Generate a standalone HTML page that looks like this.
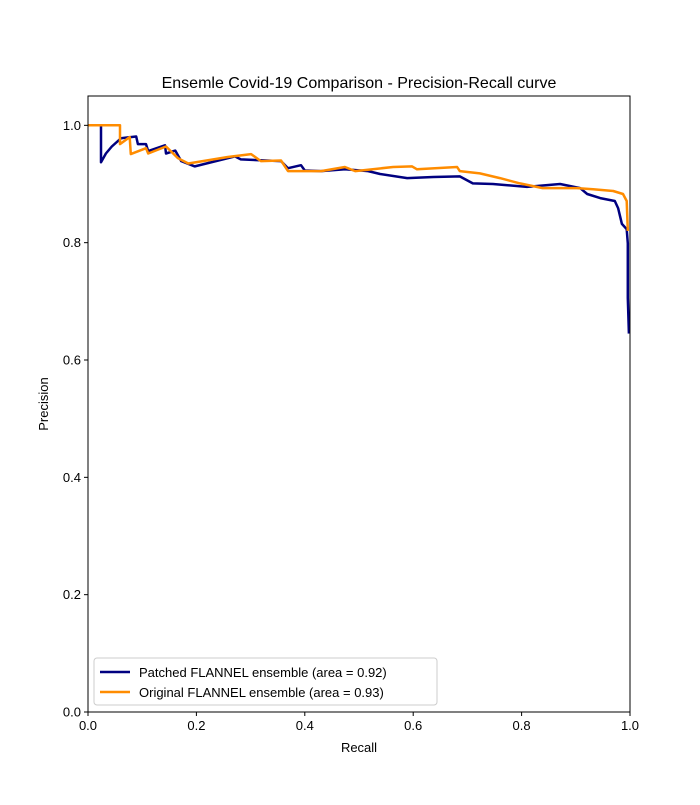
<!DOCTYPE html>
<html><head><meta charset="utf-8"><style>
body{margin:0;background:#fff;}
svg text{font-family:"Liberation Sans",sans-serif;fill:#000;}
</style></head><body>
<svg id="chart" width="700" height="800" xmlns="http://www.w3.org/2000/svg">
<rect width="700" height="800" fill="#fff"/>
<text x="359" y="88" font-size="16" text-anchor="middle">Ensemle Covid-19 Comparison - Precision-Recall curve</text>
<g id="ticks"></g>
<g id="series"></g>
<rect x="88" y="96" width="542" height="616" fill="none" stroke="#000" stroke-width="1"/>
<text x="359" y="752" font-size="13" text-anchor="middle">Recall</text>
<text x="48" y="404" font-size="13" text-anchor="middle" transform="rotate(-90 48 404)">Precision</text>
<g>
<rect x="94" y="658" width="343" height="47" rx="3" fill="#fff" fill-opacity="0.8" stroke="#ccc"/>
<line x1="100" y1="672" x2="130" y2="672" stroke="#000080" stroke-width="2.5"/>
<text x="139" y="677" font-size="13">Patched FLANNEL ensemble (area = 0.92)</text>
<line x1="100" y1="692" x2="130" y2="692" stroke="#ff8c00" stroke-width="2.5"/>
<text x="139" y="697" font-size="13">Original FLANNEL ensemble (area = 0.93)</text>
</g>
</svg>
<script>
const xTicks=[0,0.2,0.4,0.6,0.8,1.0];
const xTickLabels=["0.0","0.2","0.4","0.6","0.8","1.0"];
const yTicks=[0,0.2,0.4,0.6,0.8,1.0];
const yTickLabels=["0.0","0.2","0.4","0.6","0.8","1.0"];
const patchedRecall=[0.024,0.024,0.033,0.044,0.061,0.089,0.092,0.107,0.111,0.142,0.144,0.161,0.172,0.197,0.271,0.282,0.356,0.369,0.393,0.400,0.430,0.474,0.517,0.539,0.589,0.637,0.686,0.710,0.747,0.810,0.871,0.908,0.921,0.945,0.972,0.978,0.985,0.994,0.996,0.996,0.998];
const patchedPrecision=[1.0,0.937,0.952,0.964,0.978,0.981,0.968,0.968,0.956,0.966,0.952,0.957,0.939,0.930,0.947,0.942,0.939,0.927,0.932,0.923,0.922,0.925,0.922,0.917,0.910,0.912,0.913,0.901,0.900,0.895,0.900,0.893,0.883,0.876,0.871,0.859,0.832,0.823,0.799,0.706,0.645];
const originalRecall=[0,0.059,0.059,0.077,0.079,0.107,0.111,0.144,0.166,0.185,0.258,0.301,0.319,0.356,0.369,0.430,0.474,0.493,0.563,0.598,0.607,0.640,0.681,0.686,0.723,0.760,0.797,0.839,0.902,0.932,0.969,0.987,0.994,0.996];
const originalPrecision=[1.0,1.0,0.968,0.980,0.951,0.961,0.952,0.964,0.944,0.935,0.946,0.951,0.939,0.940,0.922,0.922,0.929,0.922,0.929,0.930,0.925,0.927,0.929,0.922,0.918,0.910,0.901,0.893,0.893,0.891,0.888,0.883,0.871,0.820];
const NS="http://www.w3.org/2000/svg";
const X0=88,X1=630,Y0=712,YMAX=1.05,Y1=96;
function sx(v){return X0+v*(X1-X0);}
function sy(v){return Y0-v/YMAX*(Y0-Y1);}
const tg=document.getElementById('ticks');
xTicks.forEach((t,i)=>{
  const l=document.createElementNS(NS,'line');
  
  
  l.setAttribute('x1',sx(t));l.setAttribute('x2',sx(t));l.setAttribute('y1',Y0);l.setAttribute('y2',Y0+4);l.setAttribute('stroke','#000');
  tg.appendChild(l);
  const tx=document.createElementNS(NS,'text');
  
  
  tx.setAttribute('x',sx(t));tx.setAttribute('y',Y0+18);tx.setAttribute('font-size','13');tx.setAttribute('text-anchor','middle');
  tx.textContent=xTickLabels[i];tg.appendChild(tx);
});
yTicks.forEach((t,i)=>{
  const l=document.createElementNS(NS,'line');
  
  
  l.setAttribute('x1',X0-4);l.setAttribute('x2',X0);l.setAttribute('y1',sy(t));l.setAttribute('y2',sy(t));l.setAttribute('stroke','#000');
  tg.appendChild(l);
  const tx=document.createElementNS(NS,'text');
  
  
  tx.setAttribute('x',X0-7);tx.setAttribute('y',sy(t)+4.5);tx.setAttribute('font-size','13');tx.setAttribute('text-anchor','end');
  tx.textContent=yTickLabels[i];tg.appendChild(tx);
});
const sg=document.getElementById('series');
function draw(xs,ys,color,name){
  const p=document.createElementNS(NS,'polyline');
  
  
  p.setAttribute('points',xs.map((x,i)=>sx(x).toFixed(1)+','+sy(ys[i]).toFixed(1)).join(' '));
  p.setAttribute('fill','none');p.setAttribute('stroke',color);p.setAttribute('stroke-width','2.5');p.setAttribute('stroke-linejoin','round');
  sg.appendChild(p);
}
draw(patchedRecall,patchedPrecision,'#000080','patched-curve');
draw(originalRecall,originalPrecision,'#ff8c00','original-curve');
</script>
</body></html>
